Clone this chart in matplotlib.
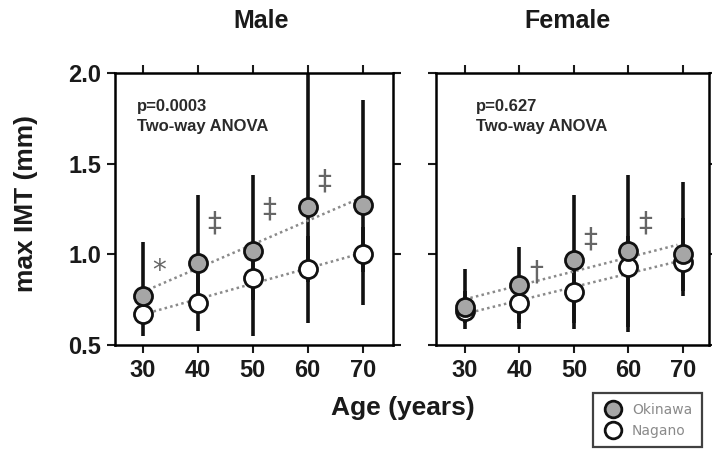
import numpy as np
import matplotlib.pyplot as plt
from matplotlib.lines import Line2D

plt.rcParams['font.family'] = ['Liberation Sans', 'DejaVu Sans']
plt.rcParams['font.weight'] = 'bold'

ages = [30, 40, 50, 60, 70]

# Male
male_oki = [0.77, 0.95, 1.02, 1.26, 1.27]
male_oki_lo = [0.62, 0.70, 0.75, 0.85, 0.90]
male_oki_hi = [1.07, 1.33, 1.44, 2.10, 1.85]
male_nag = [0.67, 0.73, 0.87, 0.92, 1.00]
male_nag_lo = [0.55, 0.58, 0.55, 0.62, 0.72]
male_nag_hi = [0.80, 0.90, 1.00, 1.10, 1.15]
male_marks = ['*', '‡', '‡', '‡', '']
male_mark_y = [0.91, 1.17, 1.25, 1.40, 0]
male_p = 'p=0.0003\nTwo-way ANOVA'

# Female
fem_oki = [0.71, 0.83, 0.97, 1.02, 1.00]
fem_oki_lo = [0.62, 0.62, 0.62, 0.60, 0.80]
fem_oki_hi = [0.92, 1.04, 1.33, 1.44, 1.40]
fem_nag = [0.69, 0.73, 0.79, 0.93, 0.96]
fem_nag_lo = [0.59, 0.59, 0.59, 0.57, 0.77]
fem_nag_hi = [0.80, 0.85, 0.95, 1.10, 1.20]
fem_marks = ['', '†', '‡', '‡', '']
fem_mark_y = [0, 0.90, 1.08, 1.17, 0]
fem_p = 'p=0.627\nTwo-way ANOVA'

gray = '#a6a6a6'
txt = '#1a1a1a'

fig = plt.figure(figsize=(7.12, 4.5), dpi=100)
ax1 = fig.add_axes([0.1615, 0.2333, 0.3904, 0.6044])
ax2 = fig.add_axes([0.6124, 0.2333, 0.3834, 0.6044])


def panel(ax, oki, oki_lo, oki_hi, nag, nag_lo, nag_hi, marks, mark_y, ptext, px, xlim):
    ax.vlines(ages, oki_lo, oki_hi, color='#111', lw=2.6, zorder=2)
    ax.vlines(ages, nag_lo, nag_hi, color='#111', lw=2.6, zorder=2)
    xs = np.array([31, 69])
    for vals in [oki, nag]:
        k, b = np.polyfit(ages, vals, 1)
        ax.plot(xs, k * xs + b, ls=(0, (1, 1.3)), color='#8a8a8a', lw=1.8, zorder=3)
    ax.plot(ages, nag, 'o', ms=13, mfc='white', mec='#111', mew=2.0, zorder=4)
    ax.plot(ages, oki, 'o', ms=13, mfc=gray, mec='#111', mew=2.0, zorder=5)
    for a, m, y in zip(ages, marks, mark_y):
        if m:
            ax.text(a + 3, y, m, ha='center', va='center', fontsize=20,
                    color='#666', family='DejaVu Sans', fontweight='normal')
    ax.text(px, 0.905, ptext, transform=ax.transAxes, ha='left', va='top',
            fontsize=12, color='#2a2a2a', linespacing=1.45)
    ax.set_xlim(*xlim)
    ax.set_ylim(0.5, 2.0)
    ax.set_xticks(ages)
    ax.set_yticks([0.5, 1.0, 1.5, 2.0])
    ax.tick_params(direction='out', length=6, width=1.5, top=True, right=True,
                   labelsize=17, colors=txt, pad=4)
    for s in ax.spines.values():
        s.set_linewidth(1.8)


panel(ax1, male_oki, male_oki_lo, male_oki_hi, male_nag, male_nag_lo, male_nag_hi,
      male_marks, male_mark_y, male_p, 0.079, (25, 75.5))
panel(ax2, fem_oki, fem_oki_lo, fem_oki_hi, fem_nag, fem_nag_lo, fem_nag_hi,
      fem_marks, fem_mark_y, fem_p, 0.145, (24.7, 74.8))
ax1.set_yticklabels(['0.5', '1.0', '1.5', '2.0'])
ax2.set_yticklabels([])

fig.text(261 / 712, 1 - 21 / 450, 'Male', ha='center', va='center', fontsize=18, color=txt)
fig.text(568 / 712, 1 - 21 / 450, 'Female', ha='center', va='center', fontsize=18, color=txt)
fig.text(26 / 712, 1 - 203 / 450, 'max IMT (mm)', ha='center', va='center', rotation=90,
         fontsize=19, color=txt)
fig.text(403 / 712, 1 - 408 / 450, 'Age (years)', ha='center', va='center', fontsize=19, color=txt)

handles = [
    Line2D([], [], marker='o', ls='', ms=12, mfc=gray, mec='#111', mew=2.0, label='Okinawa'),
    Line2D([], [], marker='o', ls='', ms=12, mfc='white', mec='#111', mew=2.0, label='Nagano'),
]
leg = fig.legend(handles=handles, loc='upper left', bbox_to_anchor=(593 / 712, 1 - 393 / 450),
                 prop={'family': 'DejaVu Sans', 'size': 10, 'weight': 'normal'},
                 frameon=True, fancybox=False, edgecolor='#111', handlelength=1.5,
                 handletextpad=0.6, borderpad=0.7, labelspacing=0.5, borderaxespad=0)
leg.get_frame().set_linewidth(1.6)
for t in leg.get_texts():
    t.set_color('#8a8a8a')

fig.savefig('out.png', dpi=100)
